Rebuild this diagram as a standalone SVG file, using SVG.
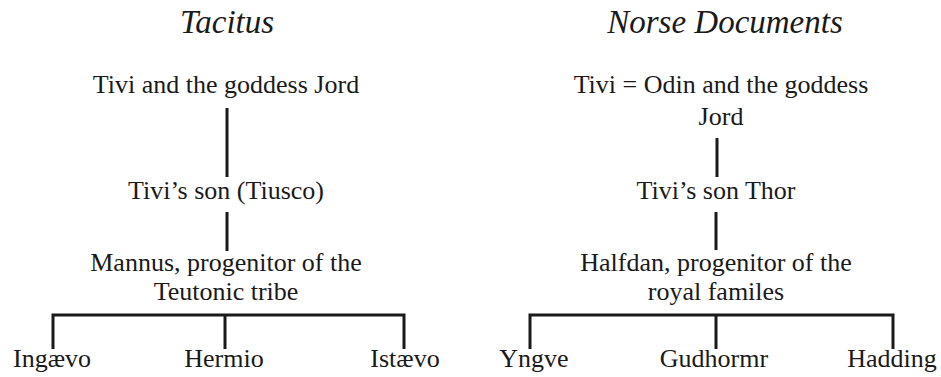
<svg xmlns="http://www.w3.org/2000/svg" width="941" height="377" viewBox="0 0 941 377">
<style>
text{font-family:"Liberation Serif","Times New Roman",serif;fill:#1a1a1a;text-anchor:middle}
.t{font-size:33px;font-style:italic}
.n{font-size:26px}
.c{stroke:#1a1a1a;stroke-width:3;fill:none}
</style>
<rect width="941" height="377" fill="#fff"/>
<g id="title-tacitus"><text class="t" x="227" y="33">Tacitus</text></g>
<g id="title-norse"><text class="t" x="725" y="33">Norse Documents</text></g>
<g id="tivi-jord"><text class="n" x="226" y="93">Tivi and the goddess Jord</text></g>
<g id="tivi-son"><text class="n" x="226" y="199">Tivi’s son (Tiusco)</text></g>
<g id="mannus"><text class="n" x="226" y="271">Mannus, progenitor of the</text><text class="n" x="226" y="300">Teutonic tribe</text></g>
<g id="ingaevo"><text class="n" x="52" y="367">Ingævo</text></g>
<g id="hermio"><text class="n" x="224" y="367">Hermio</text></g>
<g id="istaevo"><text class="n" x="405" y="367">Istævo</text></g>
<g id="tivi-odin"><text class="n" x="721" y="93">Tivi = Odin and the goddess</text><text class="n" x="721" y="125">Jord</text></g>
<g id="thor"><text class="n" x="716" y="199">Tivi’s son Thor</text></g>
<g id="halfdan"><text class="n" x="716" y="271">Halfdan, progenitor of the</text><text class="n" x="716" y="300">royal familes</text></g>
<g id="yngve"><text class="n" x="534" y="367">Yngve</text></g>
<g id="gudhormr"><text class="n" x="714" y="367">Gudhormr</text></g>
<g id="hadding"><text class="n" x="892" y="367">Hadding</text></g>
<g id="connectors">
<path class="c" d="M227 108V177M227 212V251M53 349V315H404V349M225 315V349"/>
<path class="c" d="M717 138V177M716 212V250M530 349V315H893V349M716 315V349"/>
</g>
</svg>
